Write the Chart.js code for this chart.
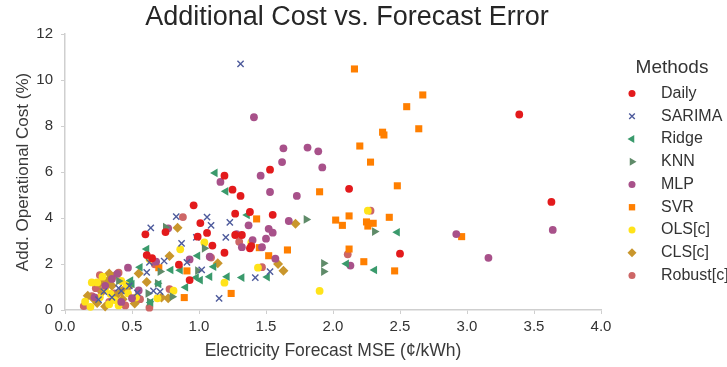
<!DOCTYPE html>
<html>
<head>
<meta charset="utf-8">
<script src="https://cdn.jsdelivr.net/npm/chart.js@4.4.0/dist/chart.umd.min.js"></script>
<style>
  html, body { margin: 0; padding: 0; background: #fff; }
</style>
</head>
<body>
<canvas id="grafico" width="727" height="367"></canvas>
<script>
// MSE da previsão (¢/kWh) e custo operacional adicional (%) por método
const metodos = ['Daily', 'SARIMA', 'Ridge', 'KNN', 'MLP', 'SVR', 'OLS[c]', 'CLS[c]', 'Robust[c]']

const xDaily = [3.39, 3.63, 1.53, 2.12, 1.55, 2.50, 1.19, 1.25, 1.31, 0.96, 1.38, 1.27, 1.01, 0.75, 0.60, 1.06, 0.99, 1.27, 1.32, 1.10, 1.19, 0.61, 0.65, 0.85, 0.93, 1.38, 1.39]
const yDaily = [8.50, 4.70, 6.10, 5.27, 4.14, 2.45, 5.84, 5.23, 4.96, 4.55, 4.26, 4.19, 3.78, 3.39, 3.29, 3.35, 3.19, 3.26, 3.26, 2.80, 2.49, 2.39, 2.25, 1.97, 1.30, 2.68, 2.78]

const xSarima = [1.31, 0.64, 0.83, 1.06, 1.09, 1.23, 1.20, 0.98, 0.87, 0.74, 0.63, 0.91, 1.02, 0.61, 0.54, 0.66, 0.71, 1.15, 1.42, 1.53, 0.29, 0.42, 0.35, 0.48, 0.25, 0.40]
const ySarima = [10.70, 3.57, 4.06, 4.04, 3.68, 3.81, 3.16, 3.16, 2.90, 2.13, 2.07, 2.07, 1.74, 1.64, 0.75, 0.83, 0.80, 0.51, 1.41, 1.67, 0.80, 0.83, 0.55, 1.05, 0.45, 0.95]

const xRidge = [1.12, 1.20, 1.36, 2.48, 2.10, 2.31, 1.51, 0.61, 0.56, 0.49, 0.50, 0.79, 0.86, 0.98, 1.01, 1.11, 1.21, 1.32, 0.99, 0.70, 0.64, 0.90, 1.08]
const yRidge = [5.96, 5.16, 4.13, 3.38, 2.01, 1.74, 1.43, 2.65, 1.86, 1.28, 1.13, 1.74, 1.73, 1.41, 1.30, 1.88, 1.45, 1.41, 2.36, 1.13, 0.33, 0.99, 1.45]

const xKnn = [1.80, 2.31, 1.93, 1.93, 1.04, 0.99, 0.40, 0.71, 0.62, 0.63, 0.80, 0.69, 0.75]
const yKnn = [3.94, 3.41, 2.03, 1.67, 2.68, 1.71, 1.26, 1.67, 0.72, 0.36, 0.58, 1.16, 3.60]

const xMlp = [1.41, 1.63, 1.81, 1.89, 1.62, 1.92, 1.46, 1.16, 1.53, 1.73, 1.67, 1.37, 1.52, 1.55, 1.28, 1.50, 1.40, 1.57, 2.13, 2.92, 3.64, 3.16, 0.47, 0.68, 0.93, 1.08, 1.32, 1.47, 0.50, 0.39, 0.77, 0.22, 0.30, 0.55, 0.42, 0.35]
const yMlp = [8.38, 7.03, 7.06, 6.90, 6.43, 6.20, 5.84, 5.57, 5.13, 4.96, 3.87, 3.68, 3.53, 3.36, 3.30, 3.10, 3.04, 2.23, 1.93, 3.30, 3.48, 2.27, 1.84, 2.10, 2.20, 2.32, 2.73, 2.73, 0.51, 1.57, 3.55, 0.55, 1.05, 0.85, 0.35, 1.35]

const xSvr = [2.16, 2.67, 2.55, 2.64, 2.96, 2.37, 2.38, 2.20, 2.28, 2.48, 1.90, 1.43, 2.02, 2.12, 2.07, 2.25, 2.30, 2.26, 2.42, 1.45, 1.66, 1.52, 2.12, 2.23, 2.46, 0.70, 0.91, 0.89, 1.24]
const ySvr = [10.48, 9.35, 8.84, 7.88, 3.19, 7.73, 7.61, 7.13, 6.43, 5.40, 5.14, 3.96, 3.91, 4.09, 3.68, 3.83, 3.77, 3.65, 4.03, 2.71, 2.61, 2.36, 2.65, 2.10, 1.70, 1.84, 1.70, 0.54, 0.72]

const xOls = [1.90, 1.44, 1.39, 2.26, 0.86, 0.63, 1.04, 1.19, 0.81, 0.69, 0.47, 0.20, 0.24, 0.15, 0.19, 0.30, 0.37, 0.42, 0.53, 0.33, 0.28, 0.26, 0.40, 0.46, 0.34]
const yOls = [0.83, 1.84, 2.94, 4.32, 2.64, 2.22, 2.94, 1.19, 0.84, 0.51, 0.72, 1.20, 1.20, 0.36, 0.14, 0.94, 0.43, 1.26, 0.55, 0.25, 1.45, 0.55, 0.20, 1.10, 0.70]

const xCls = [1.72, 1.59, 1.63, 0.84, 0.78, 0.55, 1.14, 0.77, 0.72, 0.43, 0.42, 0.33, 0.32, 0.26, 0.48, 0.61, 0.22, 0.30, 0.36, 0.38, 0.52, 0.17, 0.24, 0.45, 0.35, 0.28]
const yCls = [3.75, 2.00, 1.71, 3.58, 2.35, 1.59, 2.03, 0.51, 0.54, 0.47, 0.80, 1.59, 1.28, 1.16, 1.04, 1.22, 0.45, 0.15, 1.45, 0.62, 0.28, 0.62, 0.30, 0.95, 1.05, 0.80]

const xRobust = [0.88, 2.11, 1.47, 0.67, 1.30, 0.26, 0.40, 0.14, 0.27, 0.37, 0.56, 0.78, 0.63, 1.09, 2.28, 0.33, 0.20, 0.45, 0.30, 0.23]
const yRobust = [4.04, 2.42, 1.86, 1.99, 2.97, 1.52, 1.62, 0.17, 0.83, 0.72, 0.47, 0.91, 0.10, 2.28, 4.32, 0.35, 0.60, 0.20, 1.25, 0.95]

const ticksX = [0, 0.5, 1, 1.5, 2, 2.5, 3, 3.5, 4]
const ticksY = [0, 2, 4, 6, 8, 10, 12]

const series = [
  [xDaily, yDaily], [xSarima, ySarima], [xRidge, yRidge], [xKnn, yKnn], [xMlp, yMlp],
  [xSvr, ySvr], [xOls, yOls], [xCls, yCls], [xRobust, yRobust]
]

// aparência de cada método
const estilos = [
  { cor: '#e31a1c', forma: 'circle', raio: 3.9, rot: 0 },
  { cor: '#4e5b9c', forma: 'crossRot', raio: 4.4, rot: 0 },
  { cor: '#3a9a6c', forma: 'triangle', raio: 5, rot: -90 },
  { cor: '#5f8b69', forma: 'triangle', raio: 5, rot: 90 },
  { cor: '#a8518a', forma: 'circle', raio: 3.9, rot: 0 },
  { cor: '#ff7f00', forma: 'rect', raio: 5, rot: 0 },
  { cor: '#ffe31a', forma: 'circle', raio: 3.9, rot: 0 },
  { cor: '#c9962c', forma: 'rectRot', raio: 5, rot: 0 },
  { cor: '#cd6666', forma: 'circle', raio: 3.9, rot: 0 }
]

const fonte = '"Liberation Sans", Arial, Helvetica, sans-serif'

const pares = (xs, ys) => xs.map((x, i) => ({ x: x, y: ys[i] }))

const datasets = metodos.map((nome, i) => {
  const e = estilos[i]
  const cruz = e.forma === 'crossRot'
  return {
    label: nome,
    data: pares(series[i][0], series[i][1]),
    pointStyle: e.forma,
    rotation: e.rot,
    pointRadius: e.raio,
    pointHoverRadius: e.raio,
    backgroundColor: e.cor,
    borderColor: e.cor,
    borderWidth: cruz ? 1.4 : 0,
    clip: false
  }
})

// legenda desenhada à direita da área do gráfico
const legendaMetodos = {
  id: 'legendaMetodos',
  afterDraw(chart) {
    const ctx = chart.ctx
    const desenhaPonto = Chart.helpers && Chart.helpers.drawPoint
    ctx.save()
    ctx.fillStyle = '#333'
    ctx.textBaseline = 'middle'
    ctx.textAlign = 'center'
    ctx.font = '19px ' + fonte
    ctx.fillText('Methods', 672, 68)
    ctx.textAlign = 'left'
    ctx.font = '16px ' + fonte
    chart.data.datasets.forEach((ds, i) => {
      const y = 93.5 + i * 22.75
      ctx.fillStyle = ds.backgroundColor
      ctx.strokeStyle = ds.borderColor
      ctx.lineWidth = ds.borderWidth
      if (desenhaPonto) {
        desenhaPonto(ctx, {
          pointStyle: ds.pointStyle,
          rotation: ds.rotation,
          radius: ds.pointRadius * 0.9,
          borderWidth: ds.borderWidth
        }, 632, y)
      }
      ctx.fillStyle = '#333'
      ctx.fillText(ds.label, 661, y)
    })
    ctx.restore()
  }
}

new Chart(document.getElementById('grafico').getContext('2d'), {
  type: 'scatter',
  data: { datasets: datasets },
  options: {
    responsive: false,
    animation: false,
    devicePixelRatio: 1,
    layout: { padding: { left: 0, right: 33, top: 0, bottom: 0 } },
    plugins: {
      legend: { display: false },
      tooltip: { enabled: false },
      title: {
        display: true,
        text: 'Additional Cost vs. Forecast Error',
        color: '#262626',
        font: { family: fonte, size: 27, weight: 'normal' },
        padding: { top: 1, bottom: 0.6 }
      }
    },
    scales: {
      x: {
        type: 'linear',
        min: 0,
        max: 4,
        afterBuildTicks: s => { s.ticks = ticksX.map(v => ({ value: v })) },
        ticks: {
          color: '#333',
          font: { family: fonte, size: 15 },
          padding: 4,
          callback: v => v.toFixed(1)
        },
        grid: { display: true, drawOnChartArea: false, drawTicks: true, tickLength: 4, color: '#cfcfcf' },
        border: { display: true, color: '#cfcfcf', width: 1.5 },
        title: {
          display: true,
          text: 'Electricity Forecast MSE (¢/kWh)',
          color: '#3a3a3a',
          font: { family: fonte, size: 17.5 },
          padding: { top: 0, bottom: 5 }
        },
        afterFit: s => { s.height = 57 }
      },
      y: {
        type: 'linear',
        min: 0,
        max: 12,
        afterBuildTicks: s => { s.ticks = ticksY.map(v => ({ value: v })) },
        ticks: {
          color: '#333',
          font: { family: fonte, size: 15 },
          padding: 8
        },
        grid: { display: true, drawOnChartArea: false, drawTicks: true, tickLength: 4, color: '#cfcfcf' },
        border: { display: true, color: '#cfcfcf', width: 1.5 },
        title: {
          display: true,
          text: 'Add. Operational Cost (%)',
          color: '#3a3a3a',
          font: { family: fonte, size: 17 },
          padding: { top: 13, bottom: 0 }
        },
        afterFit: s => { s.width = 65 }
      },
      // espaço reservado para a legenda
      margemLegenda: {
        type: 'linear',
        position: 'right',
        display: true,
        grid: { display: false },
        border: { display: false },
        ticks: { display: false },
        afterFit: s => { s.width = 93 }
      }
    }
  },
  plugins: [legendaMetodos]
})
</script>
</body>
</html>
